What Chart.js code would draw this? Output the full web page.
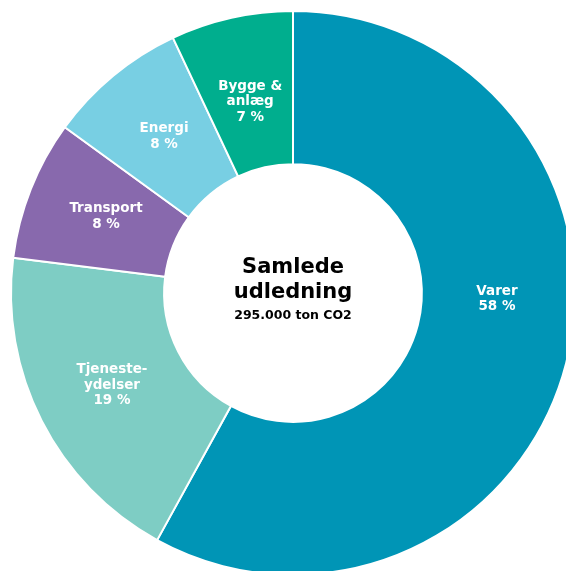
<!DOCTYPE html>
<html>
<head>
<meta charset="utf-8">
<title>Samlede udledning</title>
<script src="https://cdn.jsdelivr.net/npm/chart.js"></script>
<style>
  html, body { margin:0; padding:0; background:#fff; overflow:hidden; }
  #wrap { width:566px; height:571px; overflow:hidden; position:relative; }
  canvas { position:absolute; left:0; top:0; }
</style>
</head>
<body>
<div id="wrap">
  <canvas id="donut" width="586" height="586"></canvas>
</div>

<script>
// ---------------- Data ----------------
const categories = ["Varer", "Tjenesteydelser", "Transport", "Energi", "Bygge & anlæg"];
const sliceLines = [["Varer"], ["Tjeneste-", "ydelser"], ["Transport"], ["Energi"], ["Bygge &", "anlæg"]];
const shares = [58, 19, 8, 8, 7];
const sliceColors = ["#0095b6", "#7ecdc4", "#8869ad", "#78cfe3", "#00ae8e"];
const centerTitle = ["Samlede", "udledning"];
const centerSub = "295.000 ton CO2";

const FONT = "'DejaVu Sans', Verdana, sans-serif";

// ---------------- Slice labels ----------------
const sliceLabels = {
  id: "sliceLabels",
  afterDatasetsDraw(chart, args, opts) {
    const ctx = chart.ctx;
    const meta = chart.getDatasetMeta(0);
    ctx.save();
    ctx.fillStyle = "#fff";
    ctx.font = "bold " + opts.size + "px " + FONT;
    ctx.textAlign = "center";
    ctx.textBaseline = "middle";
    meta.data.forEach((arc, i) => {
      const p = arc.tooltipPosition();
      const shift = opts.shift[i] || [0, 0];
      const lines = sliceLines[i].concat([shares[i] + " %"]);
      const top = p.y + shift[1] - (lines.length - 1) * opts.lineHeight / 2;
      lines.forEach((t, j) => ctx.fillText(t, p.x + shift[0], top + j * opts.lineHeight));
    });
    ctx.restore();
  }
};

// ---------------- Center text ----------------
const centerText = {
  id: "centerText",
  afterDraw(chart) {
    const ctx = chart.ctx;
    const arc = chart.getDatasetMeta(0).data[0];
    const cx = arc.x, cy = arc.y;
    ctx.save();
    ctx.fillStyle = "#000";
    ctx.textAlign = "center";
    ctx.textBaseline = "middle";
    ctx.font = "bold 21px " + FONT;
    ctx.fillText(centerTitle[0], cx, cy - 25);
    ctx.fillText(centerTitle[1], cx, cy);
    ctx.font = "bold 12.5px " + FONT;
    ctx.fillText(centerSub, cx, cy + 23);
    ctx.restore();
  }
};

new Chart(document.getElementById("donut"), {
  type: "doughnut",
  data: {
    labels: categories,
    datasets: [{
      data: shares,
      backgroundColor: sliceColors,
      borderColor: "#fff",
      borderWidth: 2,
      hoverOffset: 0
    }]
  },
  options: {
    responsive: false,
    animation: false,
    cutout: "45.7%",
    rotation: 0,
    layout: { padding: 10 },
    plugins: {
      legend: { display: false },
      tooltip: { enabled: false },
      sliceLabels: {
        size: 13.5,
        lineHeight: 15.5,
        shift: [[5, -45], [2, -1], [4, -1], [2, 2], [2, 9]]
      }
    }
  },
  plugins: [sliceLabels, centerText]
});
</script>
</body>
</html>
